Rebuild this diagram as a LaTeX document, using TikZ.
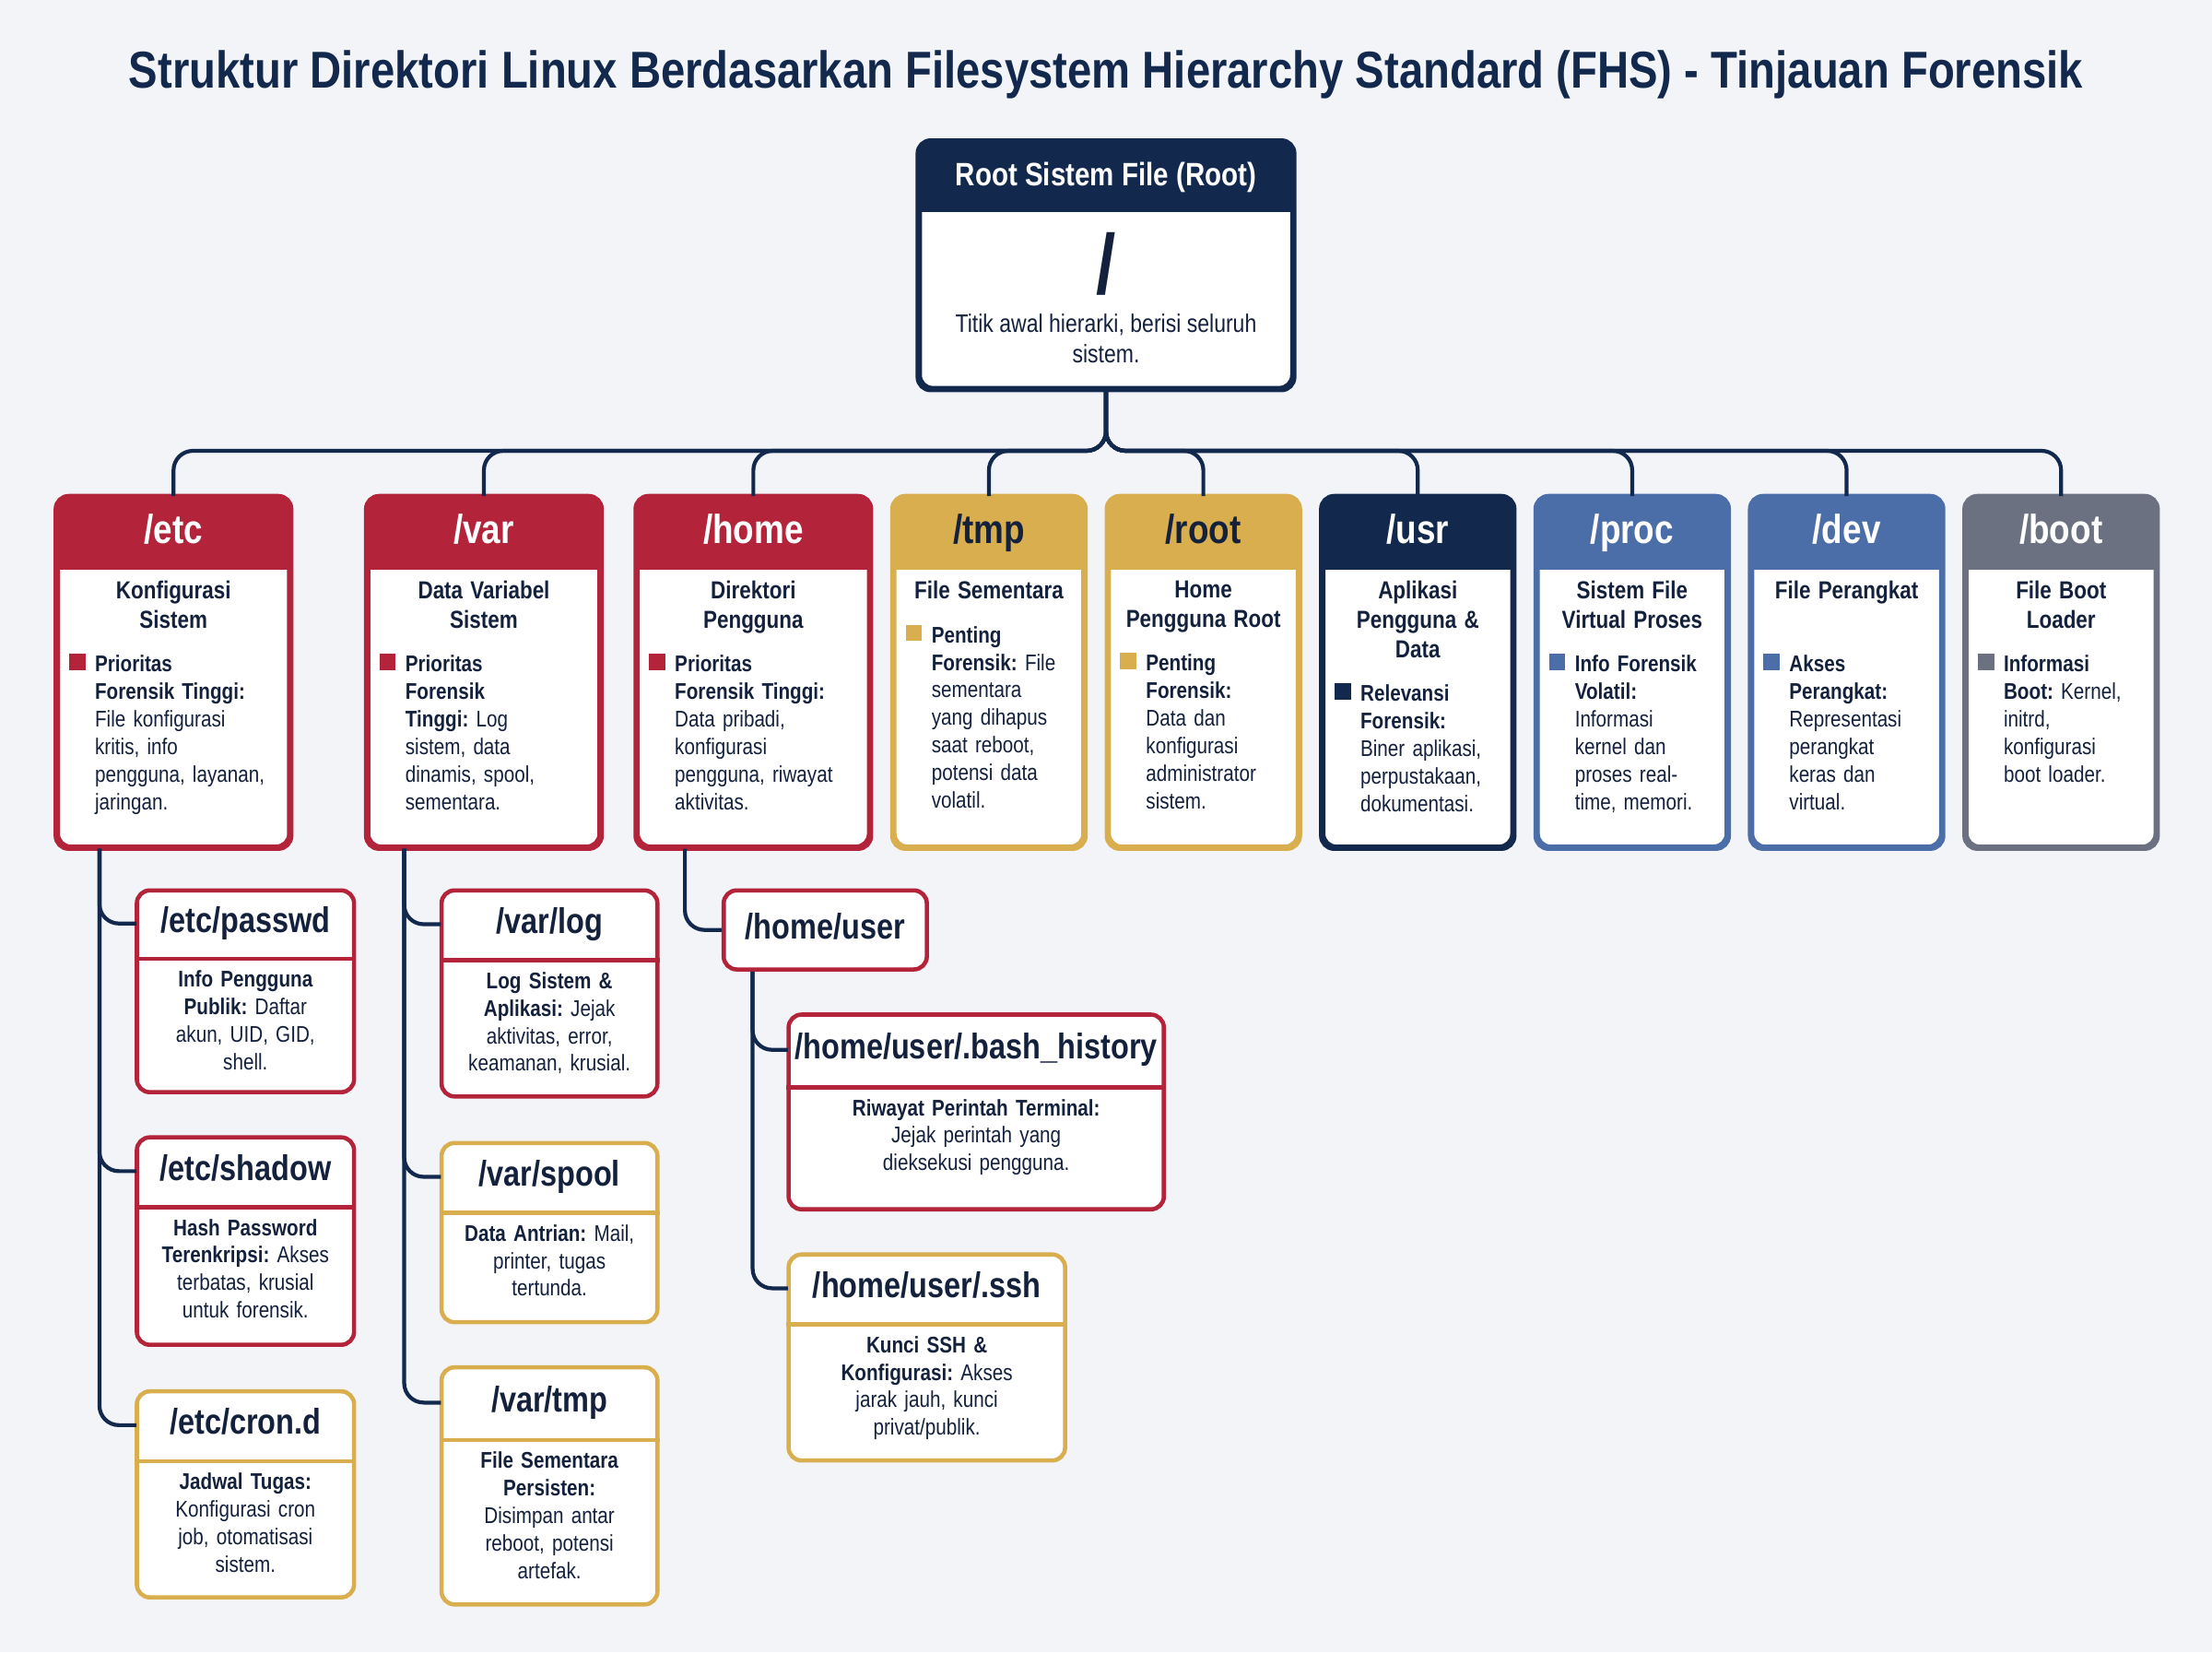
\documentclass[tikz,border=0pt]{standalone}
\usepackage{fontspec}
\setmainfont{Liberation Sans}[FakeStretch=0.84]
\usepackage{xcolor}
\frenchspacing
\definecolor{cbg}{HTML}{F2F4F8}
\definecolor{cink}{HTML}{14213D}
\definecolor{cred}{HTML}{B3243A}
\definecolor{cgold}{HTML}{D9AE4E}
\definecolor{cnavy}{HTML}{12294D}
\definecolor{cblue}{HTML}{4B6EA8}
\definecolor{cgray}{HTML}{6B7180}
\def\px{0.01531cm}
\newcommand\bul[2]{\par\noindent\makebox[8pt][l]{\textcolor{#1}{\rule[0.15ex]{5pt}{5pt}}}%
  \parbox[t]{\dimexpr\linewidth-8pt}{\raggedright #2}}
\tikzset{
  frame/.style={draw=#1, line width=1.3pt, rounded corners=4pt},
  head/.style={font=\bfseries\fontsize{12.5}{14}\selectfont, inner sep=0pt, text height=9pt, text depth=2.5pt},
  subhead/.style={font=\bfseries\fontsize{11}{13}\selectfont, text=cink, inner sep=0pt, text height=8pt, text depth=2.5pt},
  body/.style={font=\fontsize{7}{8.5}\selectfont, text=cink, inner sep=0pt, align=left},
  link/.style={draw=cnavy, line width=1.2pt, rounded corners=6pt},
}
% name, colour, cx, cy, width, height, header height, header text, body
\newcommand\dirnode[9]{%
  \node[frame=#2, fill=white, minimum width=#5*\px, minimum height=#6*\px] (#1) at (#3,#4) {};
  \begin{scope}
    \clip[rounded corners=4pt] (#1.south west) rectangle (#1.north east);
    \fill[#2] (#1.north west) rectangle ([yshift=-#7*\px]#1.north east);
  \end{scope}
  \draw[frame=#2, fill=none] (#1.south west) rectangle (#1.north east);
  \node[head, text=white, minimum width=#5*\px, minimum height=#7*\px, anchor=north] (#1-h) at (#1.north) {#8};
  \node[body, text width=(#5-16)*\px, anchor=north] at ([yshift=-7*\px]#1-h.south) {#9};
}
\newcommand\subnode[9]{%
  \node[frame=#2, fill=white, minimum width=#5*\px, minimum height=#6*\px] (#1) at (#3,#4) {};
  \node[subhead, minimum width=#5*\px, minimum height=#7*\px, anchor=north] (#1-h) at (#1.north) {#8};
  \draw[#2, line width=1.3pt] (#1.west |- #1-h.south) -- (#1.east |- #1-h.south);
  \node[body, align=center, text width=(#5-12)*\px, anchor=north] at ([yshift=-8*\px]#1-h.south) {#9};
}
\begin{document}
\begin{tikzpicture}[x=\px, y=-\px]
  \fill[cbg] (0,0) rectangle (1568,1171);
  \useasboundingbox (0,0) rectangle (1568,1171);
  \node[text=cnavy, font=\bfseries\fontsize{16}{18}\selectfont] (title) at (784,53)
    {Struktur Direktori Linux Berdasarkan Filesystem Hierarchy Standard (FHS) - Tinjauan Forensik};

  % root
  \node[frame=cnavy, fill=white, minimum width=264*\px, minimum height=174*\px] (root) at (784,188) {};
  \begin{scope}
    \clip[rounded corners=4pt] (root.south west) rectangle (root.north east);
    \fill[cnavy] (root.north west) rectangle ([yshift=-51*\px]root.north east);
  \end{scope}
  \draw[frame=cnavy] (root.south west) rectangle (root.north east);
  \node[text=white, font=\bfseries\fontsize{10}{12}\selectfont, minimum height=51*\px, anchor=north] (root-h) at (root.north) {Root Sistem File (Root)};
  \node[text=cink, font=\bfseries\fontsize{26}{28}\selectfont] (slash) at (784,187) {/};
  \node[body, align=center, font=\fontsize{7.8}{9.2}\selectfont] (root-t) at (784,240) {Titik awal hierarki, berisi seluruh\\sistem.};

  % top level
  \dirnode{etc}{cred}{123}{476.5}{164}{247}{52}{/etc}{{\centering\bfseries\fontsize{7.6}{9}\selectfont Konfigurasi\\Sistem\par}\vspace{5pt}
    \bul{cred}{\textbf{Prioritas\\Forensik Tinggi:} File konfigurasi\\kritis, info\\pengguna, layanan,\\jaringan.}}
  \dirnode{var}{cred}{343}{476.5}{164}{247}{52}{/var}{{\centering\bfseries\fontsize{7.6}{9}\selectfont Data Variabel\\Sistem\par}\vspace{5pt}
    \bul{cred}{\textbf{Prioritas\\Forensik\\Tinggi:} Log\\sistem, data\\dinamis, spool,\\sementara.}}
  \dirnode{home}{cred}{534}{476.5}{164}{247}{52}{/home}{{\centering\bfseries\fontsize{7.6}{9}\selectfont Direktori\\Pengguna\par}\vspace{5pt}
    \bul{cred}{\textbf{Prioritas\\Forensik Tinggi:}\\Data pribadi,\\konfigurasi\\pengguna, riwayat\\aktivitas.}}
  \dirnode{tmp}{cgold}{701}{476.5}{134}{247}{52}{\textcolor{cink}{/tmp}}{{\centering\bfseries\fontsize{7.6}{9}\selectfont File Sementara\par}\vspace{5pt}
    \bul{cgold}{\textbf{Penting\\Forensik:} File\\sementara\\yang dihapus\\saat reboot,\\potensi data\\volatil.}}
  \dirnode{rootdir}{cgold}{853}{476.5}{134}{247}{52}{\textcolor{cink}{/root}}{{\centering\bfseries\fontsize{7.6}{9}\selectfont Home\\Pengguna Root\par}\vspace{5pt}
    \bul{cgold}{\textbf{Penting\\Forensik:}\\Data dan\\konfigurasi\\administrator\\sistem.}}
  \dirnode{usr}{cnavy}{1005}{476.5}{134}{247}{52}{/usr}{{\centering\bfseries\fontsize{7.6}{9}\selectfont Aplikasi\\Pengguna \&\\Data\par}\vspace{5pt}
    \bul{cnavy}{\textbf{Relevansi\\Forensik:}\\Biner aplikasi,\\perpustakaan,\\dokumentasi.}}
  \dirnode{proc}{cblue}{1157}{476.5}{134}{247}{52}{/proc}{{\centering\bfseries\fontsize{7.6}{9}\selectfont Sistem File\\Virtual Proses\par}\vspace{5pt}
    \bul{cblue}{\textbf{Info Forensik\\Volatil:}\\Informasi\\kernel dan\\proses real-\\time, memori.}}
  \dirnode{dev}{cblue}{1309}{476.5}{134}{247}{52}{/dev}{{\centering\bfseries\fontsize{7.6}{9}\selectfont File Perangkat\par}\vspace{14pt}
    \bul{cblue}{\textbf{Akses\\Perangkat:}\\Representasi\\perangkat\\keras dan\\virtual.}}
  \dirnode{boot}{cgray}{1461}{476.5}{134}{247}{52}{/boot}{{\centering\bfseries\fontsize{7.6}{9}\selectfont File Boot\\Loader\par}\vspace{5pt}
    \bul{cgray}{\textbf{Informasi\\Boot:} Kernel,\\initrd,\\konfigurasi\\boot loader.}}

  % children
  \subnode{passwd}{cred}{174}{702.5}{154}{143}{49}{/etc/passwd}{\textbf{Info Pengguna\\Publik:} Daftar\\akun, UID, GID,\\shell.}
  \subnode{shadow}{cred}{174}{879.5}{154}{147}{50}{/etc/shadow}{\textbf{Hash Password\\Terenkripsi:} Akses\\terbatas, krusial\\untuk forensik.}
  \subnode{crond}{cgold}{174}{1059}{154}{146}{50}{/etc/cron.d}{\textbf{Jadwal Tugas:}\\Konfigurasi cron\\job, otomatisasi\\sistem.}
  \subnode{varlog}{cred}{389.5}{704}{153}{146}{50}{/var/log}{\textbf{Log Sistem \&\\Aplikasi:} Jejak\\aktivitas, error,\\keamanan, krusial.}
  \subnode{varspool}{cgold}{389.5}{873.5}{153}{127}{50}{/var/spool}{\textbf{Data Antrian:} Mail,\\printer, tugas\\tertunda.}
  \subnode{vartmp}{cgold}{389.5}{1053}{153}{168}{52}{/var/tmp}{\textbf{File Sementara\\Persisten:}\\Disimpan antar\\reboot, potensi\\artefak.}
  \node[frame=cred, fill=white, subhead, minimum width=144*\px, minimum height=56*\px] (homeuser) at (585,659) {/home/user};
  \subnode{bash}{cred}{692}{788}{266}{138}{52}{/home/user/.bash\_history}{\textbf{Riwayat Perintah Terminal:}\\Jejak perintah yang\\dieksekusi pengguna.}
  \subnode{ssh}{cgold}{657}{962}{196}{146}{50}{/home/user/.ssh}{\textbf{Kunci SSH \&\\Konfigurasi:} Akses\\jarak jauh, kunci\\privat/publik.}

  % tree links
  \foreach \d in {etc,var,home,tmp,rootdir,usr,proc,dev,boot}
    \draw[link] (root.south) -- ++(0,43) -| (\d.north);
  \foreach \c in {passwd,shadow,crond}
    \draw[link] ([xshift=31*\px]etc.south west) |- (\c-h.west);
  \foreach \c in {varlog,varspool,vartmp}
    \draw[link] ([xshift=27*\px]var.south west) |- (\c-h.west);
  \draw[link] ([xshift=35*\px]home.south west) |- (homeuser.west);
  \foreach \c in {bash,ssh}
    \draw[link] ([xshift=22*\px]homeuser.south west) |- (\c-h.west);
\end{tikzpicture}
\end{document}
